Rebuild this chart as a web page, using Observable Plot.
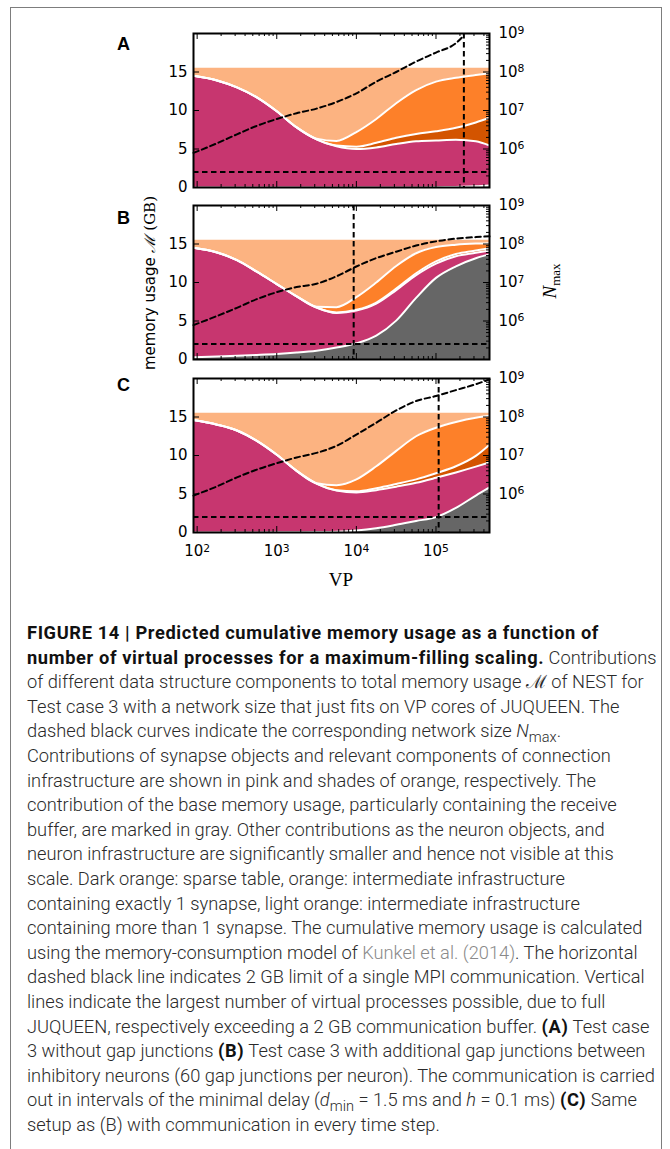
<!DOCTYPE html>
<html><head><meta charset="utf-8">
<script src="https://cdn.jsdelivr.net/npm/d3@7"></script>
<script src="https://cdn.jsdelivr.net/npm/@observablehq/plot@0.6"></script>
<style>
html,body{margin:0;padding:0;background:#fff;}
body{width:670px;height:1149px;overflow:hidden;position:relative;}
#border{position:absolute;left:10px;top:7px;width:652px;height:1300px;border:1px solid #7d7d7d;box-sizing:border-box;}
.panel{position:absolute;left:0;}
.letter{position:absolute;font:bold 18px/18px "Liberation Sans",Arial,sans-serif;color:#000;}
#ylab{position:absolute;left:149px;top:283px;transform:translate(-50%,-50%) rotate(-90deg);white-space:nowrap;font:15px "DejaVu Sans",sans-serif;color:#000;}
#ylab .cal{font-family:"DejaVu Serif",serif;font-style:italic;}
#ylab .ser{font-family:"DejaVu Serif",serif;}
#nlab{position:absolute;left:551px;top:281px;transform:translate(-50%,-50%) rotate(-90deg);white-space:nowrap;font:19px "Liberation Serif",serif;color:#000;}
#nlab sub{font-size:13px;vertical-align:-4px;}
#vplab{position:absolute;left:341px;top:580px;transform:translate(-50%,-50%);font:19px "Liberation Serif",serif;color:#000;}
#cap{position:absolute;left:27px;top:621px;font-family:Roboto,"Liberation Sans",sans-serif;font-weight:300;font-size:16px;line-height:24.6px;color:#2a2a2a;}
#cap .l{white-space:nowrap;width:max-content;}
#cap b{font-weight:700;color:#111;}
#cap .ref{color:#8a8a8a;}
#cap sub{font-size:0.8em;line-height:0;}
</style>
</head><body>
<div id="border"></div>
<div id="panels"></div>
<div class="letter" style="left:117px;top:35px">A</div>
<div class="letter" style="left:117px;top:209px">B</div>
<div class="letter" style="left:117px;top:376px">C</div>
<div id="ylab">memory usage <span class="cal">ℳ</span> <span class="ser">(GB)</span></div>
<div id="nlab"><i>N</i><sub>max</sub></div>
<div id="vplab">VP</div>
<div id="cap">
<div class="l" id="boldline"><b>FIGURE 14 | Predicted cumulative memory usage as a function of</b></div>
<div class="l"><b>number of virtual processes for a maximum-filling scaling.</b> Contributions</div>
<div class="l" id="fitline">of different data structure components to total memory usage ℳ of NEST for</div>
<div class="l">Test case 3 with a network size that just fits on VP cores of JUQUEEN. The</div>
<div class="l">dashed black curves indicate the corresponding network size <i>N</i><sub>max</sub>.</div>
<div class="l">Contributions of synapse objects and relevant components of connection</div>
<div class="l">infrastructure are shown in pink and shades of orange, respectively. The</div>
<div class="l">contribution of the base memory usage, particularly containing the receive</div>
<div class="l">buffer, are marked in gray. Other contributions as the neuron objects, and</div>
<div class="l">neuron infrastructure are significantly smaller and hence not visible at this</div>
<div class="l">scale. Dark orange: sparse table, orange: intermediate infrastructure</div>
<div class="l">containing exactly 1 synapse, light orange: intermediate infrastructure</div>
<div class="l">containing more than 1 synapse. The cumulative memory usage is calculated</div>
<div class="l">using the memory-consumption model of <span class="ref">Kunkel et al. (2014)</span>. The horizontal</div>
<div class="l">dashed black line indicates 2 GB limit of a single MPI communication. Vertical</div>
<div class="l">lines indicate the largest number of virtual processes possible, due to full</div>
<div class="l">JUQUEEN, respectively exceeding a 2 GB communication buffer. <b>(A)</b> Test case</div>
<div class="l">3 without gap junctions <b>(B)</b> Test case 3 with additional gap junctions between</div>
<div class="l">inhibitory neurons (60 gap junctions per neuron). The communication is carried</div>
<div class="l">out in intervals of the minimal delay (<i>d</i><sub>min</sub> = 1.5 ms and <i>h</i> = 0.1 ms) <b>(C)</b> Same</div>
<div class="l">setup as (B) with communication in every time step.</div>
</div>
<script>
// ---------- data ----------
const vp = [90, 178, 316, 562, 1000, 1778, 3162, 5623, 10000, 17783, 31623, 56234, 100000, 177828, 316228, 470000];
const xDomain = [90, 470000];
const yDomain = [0, 20];
const nDomain = [1e5, 1e9];
const xTickValues = [1e2, 1e3, 1e4, 1e5];
const xTickLabels = ["10²", "10³", "10⁴", "10⁵"];
const yTickValues = [0, 5, 10, 15];
const nTickValues = [1e6, 1e7, 1e8, 1e9];
const nTickLabels = ["10⁶", "10⁷", "10⁸", "10⁹"];
const commLimitGB = [2];

// Panel A (cumulative tops, GB)
const grayA   = [0, 0, 0, 0, 0, 0, 0, 0, 0, 0, 0, 0, 0.03, 0.08, 0.15, 0.25];
const pinkA   = [14.5, 13.9, 13.0, 11.7, 9.9, 7.8, 6.25, 5.35, 5.0, 5.2, 5.65, 6.0, 6.1, 6.2, 6.0, 5.45];
const sparseA = [14.5, 13.9, 13.0, 11.7, 9.9, 7.8, 6.25, 5.45, 5.3, 5.8, 6.45, 6.95, 7.3, 7.75, 8.45, 9.05];
const oneSynA = [14.5, 13.9, 13.0, 11.7, 9.9, 7.8, 6.35, 6.05, 7.2, 8.9, 10.95, 12.65, 13.75, 14.25, 14.6, 14.85];
const totalA  = [15.5, 15.5, 15.5, 15.5, 15.5, 15.5, 15.5, 15.5, 15.5, 15.5, 15.5, 15.5, 15.5, 15.5, 15.5, 15.5];
const nVPA    = [90, 178, 316, 562, 1000, 1778, 3162, 5623, 10000, 17783, 31623, 56234, 100000, 177828, 224000];
const nmaxA   = [7.9e5, 1.41e6, 2.4e6, 4.0e6, 6.0e6, 8.5e6, 1.12e7, 1.66e7, 2.8e7, 5.6e7, 1.0e8, 1.86e8, 3.2e8, 5.6e8, 8.9e8];
const vlineA  = [224000];

// Panel B
const grayB   = [0.28, 0.4, 0.5, 0.6, 0.72, 0.9, 1.15, 1.55, 2.1, 3.1, 5.05, 8.0, 10.6, 12.1, 13.15, 13.65];
const pinkB   = [14.5, 13.9, 12.9, 11.4, 9.8, 8.2, 6.75, 6.05, 6.35, 7.25, 9.0, 10.95, 12.45, 13.4, 13.85, 14.15];
const sparseB = [14.5, 13.9, 12.9, 11.4, 9.8, 8.2, 6.75, 6.1, 6.45, 7.4, 9.2, 11.2, 12.75, 13.7, 14.15, 14.45];
const oneSynB = [14.5, 13.9, 12.9, 11.4, 9.8, 8.2, 6.85, 6.8, 8.1, 10.0, 12.15, 13.8, 14.6, 14.9, 15.05, 15.1];
const totalB  = [15.5, 15.5, 15.5, 15.5, 15.5, 15.5, 15.5, 15.5, 15.5, 15.5, 15.5, 15.5, 15.5, 15.5, 15.5, 15.5];
const nVPB    = [90, 178, 316, 562, 1000, 1778, 3162, 5623, 10000, 17783, 31623, 56234, 100000, 177828, 316228, 470000];
const nmaxB   = [7.8e5, 1.35e6, 2.2e6, 3.7e6, 5.6e6, 7.6e6, 9.3e6, 1.45e7, 2.6e7, 4.3e7, 6.3e7, 9.1e7, 1.17e8, 1.38e8, 1.51e8, 1.58e8];
const vlineB  = [9250];

// Panel C
const grayC   = [0, 0, 0, 0, 0.02, 0.03, 0.05, 0.1, 0.25, 0.55, 1.0, 1.5, 2.0, 3.2, 4.8, 5.85];
const pinkC   = [14.6, 14.0, 13.25, 11.9, 10.1, 8.0, 6.35, 5.45, 5.2, 5.5, 5.95, 6.45, 7.1, 7.8, 8.55, 9.1];
const sparseC = [14.6, 14.0, 13.25, 11.9, 10.1, 8.0, 6.35, 5.5, 5.35, 5.75, 6.3, 6.9, 7.7, 8.6, 9.95, 11.4];
const oneSynC = [14.6, 14.0, 13.25, 11.9, 10.1, 8.0, 6.4, 6.15, 6.9, 8.6, 10.6, 12.5, 13.6, 14.35, 14.9, 15.15];
const totalC  = [15.5, 15.5, 15.5, 15.5, 15.5, 15.5, 15.5, 15.5, 15.5, 15.5, 15.5, 15.5, 15.5, 15.5, 15.5, 15.5];
const nVPC    = [90, 178, 316, 562, 1000, 1778, 3162, 5623, 10000, 17783, 31623, 56234, 100000, 177828, 316228, 470000];
const nmaxC   = [9.1e5, 1.58e6, 2.7e6, 4.3e6, 6.3e6, 8.9e6, 1.17e7, 1.78e7, 3.5e7, 7.1e7, 1.48e8, 2.6e8, 3.5e8, 5.0e8, 7.1e8, 9.5e8];
const vlineC  = [108000];

const colors = {light: "#fcb381", orange: "#fd8029", dark: "#d35400", pink: "#c7366f", gray: "#666666"};

// ---------- drawing ----------
const W = 670, ML = 193, MR = 181, MT = 9;
const innerW = W - ML - MR;
const lnD0 = Math.log10(nDomain[0]), lnD1 = Math.log10(nDomain[1]);
const nToY = n => yDomain[0] + (Math.log10(n) - lnD0) / (lnD1 - lnD0) * (yDomain[1] - yDomain[0]);

const minorX = [];
for (let k = 1; k <= 5; k++) for (let m = 2; m <= 9; m++) { const v = m * 10 ** k; if (v > xDomain[0] && v < xDomain[1]) minorX.push(v); }
const minorN = [];
for (let k = 5; k <= 8; k++) for (let m = 2; m <= 9; m++) minorN.push(nToY(m * 10 ** k));
const majorN = [nDomain[0], ...nTickValues].map(nToY);

const supMap = {"⁰":"0","¹":"1","²":"2","³":"3","⁴":"4","⁵":"5","⁶":"6","⁷":"7","⁸":"8","⁹":"9"};
function superscriptify(svg) {
  svg.querySelectorAll("text").forEach(t => {
    const m = /^10([⁰¹²³⁴⁵⁶⁷⁸⁹]+)$/.exec(t.textContent);
    if (!m) return;
    const exp = [...m[1]].map(c => supMap[c]).join("");
    t.textContent = "10";
    const ts = document.createElementNS("http://www.w3.org/2000/svg", "tspan");
    ts.setAttribute("dy", "-0.42em");
    ts.setAttribute("font-size", "72%");
    ts.textContent = exp;
    t.appendChild(ts);
  });
}

function panel(p, top, mb, showX) {
  const height = MT + 154 + mb;
  const innerH = 154;
  const rows = vp.map((x, i) => ({x, gray: p.gray[i], pink: p.pink[i], sparse: p.sparse[i], one: p.one[i], total: p.total[i]}));
  const nrows = p.nVP.map((x, i) => ({x, y: nToY(p.nmax[i])}));
  const curve = "monotone-x";
  const dash = "5.5,3.5";
  const marks = [
    Plot.areaY(rows, {x: "x", y1: 0, y2: "total", fill: colors.light, curve}),
    Plot.areaY(rows, {x: "x", y1: 0, y2: "one", fill: colors.orange, curve}),
    Plot.areaY(rows, {x: "x", y1: 0, y2: "sparse", fill: colors.dark, curve}),
    Plot.areaY(rows, {x: "x", y1: 0, y2: "pink", fill: colors.pink, curve}),
    Plot.areaY(rows, {x: "x", y1: 0, y2: "gray", fill: colors.gray, curve}),
    Plot.line(rows, {x: "x", y: "one", stroke: "white", strokeWidth: 2, curve}),
    Plot.line(rows, {x: "x", y: "sparse", stroke: "white", strokeWidth: 2, curve}),
    Plot.line(rows, {x: "x", y: "pink", stroke: "white", strokeWidth: 2, curve}),
    Plot.line(rows, {x: "x", y: "gray", stroke: "white", strokeWidth: 2, curve}),
    Plot.ruleY(commLimitGB, {stroke: "black", strokeWidth: 2, strokeDasharray: dash}),
    Plot.ruleX(p.vline, {stroke: "black", strokeWidth: 2, strokeDasharray: dash}),
    Plot.line(nrows, {x: "x", y: "y", stroke: "black", strokeWidth: 2, strokeDasharray: dash, curve}),
    // ticks (inward, matplotlib classic)
    Plot.tickX(xTickValues, {x: d => d, insetTop: innerH - 6, stroke: "black"}),
    Plot.tickX(xTickValues, {x: d => d, insetBottom: innerH - 6, stroke: "black"}),
    Plot.tickX(minorX, {x: d => d, insetTop: innerH - 3, stroke: "black"}),
    Plot.tickX(minorX, {x: d => d, insetBottom: innerH - 3, stroke: "black"}),
    Plot.tickY(yTickValues, {y: d => d, insetRight: innerW - 6, stroke: "black"}),
    Plot.tickY(majorN, {y: d => d, insetLeft: innerW - 6, stroke: "black"}),
    Plot.tickY(minorN, {y: d => d, insetLeft: innerW - 3, stroke: "black"}),
    Plot.axisY(yTickValues, {anchor: "left", tickSize: 0, tickPadding: 6, label: null}),
    Plot.axisY(nTickValues.map(nToY), {anchor: "right", tickSize: 0, tickPadding: 9, label: null,
      tickFormat: d => nTickLabels[nTickValues.findIndex(v => Math.abs(nToY(v) - d) < 1e-9)]}),
    Plot.frame({stroke: "black", strokeWidth: 2})
  ];
  if (showX) marks.push(Plot.axisX(xTickValues, {anchor: "bottom", tickSize: 0, tickPadding: 13, label: null,
    tickFormat: d => xTickLabels[xTickValues.indexOf(d)]}));
  const svg = Plot.plot({
    width: W, height,
    marginLeft: ML, marginRight: MR, marginTop: MT, marginBottom: mb,
    x: {type: "log", domain: xDomain, axis: null},
    y: {domain: yDomain, axis: null},
    style: {fontFamily: "DejaVu Sans, sans-serif", fontSize: "15px", color: "black", background: "transparent", overflow: "visible"},
    marks
  });
  superscriptify(svg);
  svg.classList.add("panel");
  svg.style.top = top + "px";
  document.getElementById("panels").appendChild(svg);
}

panel({gray: grayA, pink: pinkA, sparse: sparseA, one: oneSynA, total: totalA, nVP: nVPA, nmax: nmaxA, vline: vlineA}, 24, 9, false);
panel({gray: grayB, pink: pinkB, sparse: sparseB, one: oneSynB, total: totalB, nVP: nVPB, nmax: nmaxB, vline: vlineB}, 196, 9, false);
panel({gray: grayC, pink: pinkC, sparse: sparseC, one: oneSynC, total: totalC, nVP: nVPC, nmax: nmaxC, vline: vlineC}, 369, 40, true);

// fit caption font so reference lines span the same widths as in the figure
const cap = document.getElementById("cap");
const fit = document.getElementById("fitline");
cap.style.fontSize = (16 * 616 / fit.getBoundingClientRect().width).toFixed(2) + "px";
const bl = document.getElementById("boldline");
const bw = bl.getBoundingClientRect().width;
const nch = bl.textContent.length;
const ls = (572 - bw) / nch;
cap.querySelectorAll("b").forEach(b => b.style.letterSpacing = ls.toFixed(3) + "px");
</script>
</body></html>
